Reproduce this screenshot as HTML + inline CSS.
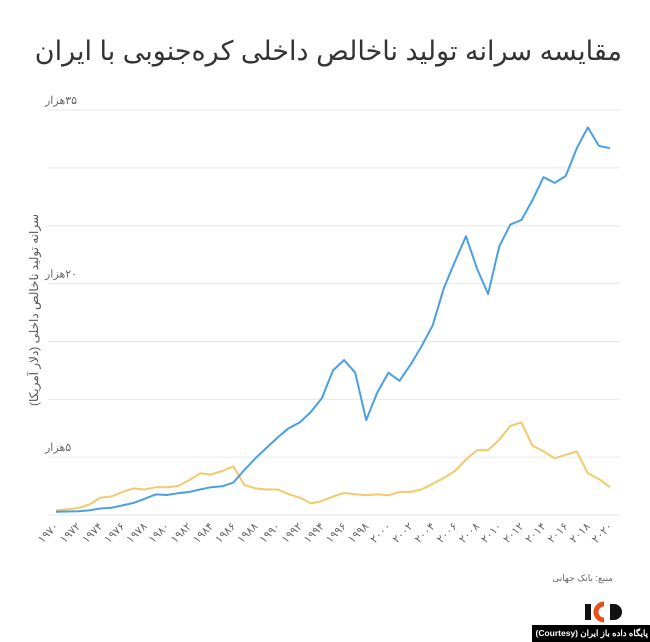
<!DOCTYPE html>
<html lang="fa"><head><meta charset="utf-8">
<style>
body{margin:0;background:#fff;width:650px;height:642px;overflow:hidden;font-family:"Liberation Sans","Noto Sans CJK SC",sans-serif;}
.t{position:absolute;direction:rtl;white-space:nowrap;}
</style></head>
<body>
<svg width="650" height="642" id="chart" style="position:absolute;left:0;top:0">
<text transform="translate(38,310) rotate(-90)" text-anchor="middle" direction="rtl" font-size="12" fill="#555">سرانه تولید ناخالص داخلی (دلار آمریکا)</text>
<g id="grid"></g><g id="xt"></g><g id="lines"></g>
<g>
<rect x="585" y="604" width="6" height="16" fill="#111"/>
<path d="M604 604 a8 8 0 1 0 0 16" stroke="#e8501c" stroke-width="5" fill="none"/>
<path d="M610 604 h4 a8 8 0 0 1 0 16 h-4 z" fill="#111"/>
</g>
<rect x="532" y="625" width="118" height="17" fill="#000"/>
</svg>
<div class="t" style="right:28px;top:36px;font-size:27px;color:#333">مقایسه سرانه تولید ناخالص داخلی کره‌جنوبی با ایران</div>
<div class="t" style="right:37px;top:573px;font-size:9px;color:#666">منبع: بانک جهانی</div>
<div class="t" style="right:2px;top:628px;font-size:8.5px;color:#fff;font-weight:bold;direction:ltr">(Courtesy) پایگاه داده باز ایران</div>
<script>
const years=[];for(let y=1970;y<=2020;y++)years.push(y);
const koreaValues=[0.28,0.3,0.32,0.4,0.56,0.62,0.83,1.05,1.4,1.78,1.73,1.88,1.99,2.2,2.4,2.48,2.8,3.9,4.9,5.8,6.7,7.5,8.0,8.9,10.1,12.5,13.4,12.3,8.2,10.6,12.3,11.6,13.0,14.6,16.4,19.6,21.9,24.1,21.3,19.1,23.2,25.1,25.5,27.2,29.2,28.7,29.3,31.7,33.5,31.9,31.7];
const iranValues=[0.4,0.5,0.6,0.9,1.5,1.6,2.0,2.3,2.2,2.4,2.4,2.5,3.0,3.6,3.5,3.8,4.2,2.6,2.3,2.2,2.2,1.8,1.5,1.0,1.2,1.6,1.9,1.8,1.7,1.8,1.7,2.0,2.0,2.2,2.7,3.2,3.8,4.8,5.6,5.6,6.5,7.7,8.0,6.0,5.5,4.9,5.2,5.5,3.6,3.1,2.4];
const yTicks=[0,5,10,15,20,25,30,35];
const yTickLabels={35:"۳۵هزار",20:"۲۰هزار",5:"۵هزار"};
const xTickYears=[1970,1972,1974,1976,1978,1980,1982,1984,1986,1988,1990,1992,1994,1996,1998,2000,2002,2004,2006,2008,2010,2012,2014,2016,2018,2020];
const NS="http://www.w3.org/2000/svg";
const xs=y=>56+(y-1970)*11.08;
const ys=v=>515-v*11.57;
const fa=s=>String(s).replace(/\d/g,d=>"۰۱۲۳۴۵۶۷۸۹"[d]);
function mk(t,a,p){const e=document.createElementNS(NS,t);for(const k in a)e.setAttribute(k,a[k]);p.appendChild(e);return e;}
const grid=document.getElementById('grid');
yTicks.forEach(v=>{
 const l=mk('line',{x1:48,x2:620,y1:ys(v),y2:ys(v),stroke:'#e6e6e6','stroke-width':1},grid);
 
 
 if(yTickLabels[v]){const t=mk('text',{x:45,y:ys(v)-6,'font-size':11,fill:'#666',direction:'rtl','text-anchor':'end'},grid);
  t.textContent=yTickLabels[v];
  
  }
});
const xt=document.getElementById('xt');
xTickYears.forEach(y=>{
 const t=mk('text',{transform:`translate(${xs(y)+3},${527}) rotate(-45)`,'text-anchor':'end','font-size':11,fill:'#666'},xt);
 t.textContent=fa(y);
 
 
});
const lines=document.getElementById('lines');
function series(vals,color,name){
 const d=vals.map((v,i)=>(i?'L':'M')+xs(years[i]).toFixed(1)+' '+ys(v).toFixed(1)).join(' ');
 const p=mk('path',{d:d,fill:'none',stroke:color,'stroke-width':2,'stroke-linejoin':'round'},lines);
 
 
}
series(iranValues,'#f2c96b','iran-line');
series(koreaValues,'#4a9fe3','south-korea-line');
</script>
</body></html>
